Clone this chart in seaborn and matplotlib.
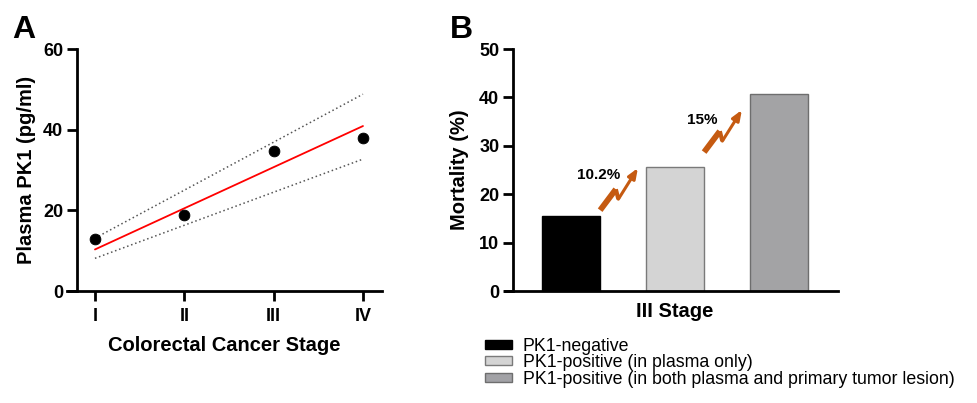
import numpy as np
import pandas as pd
import matplotlib
matplotlib.use("Agg")
import matplotlib.pyplot as plt
from matplotlib.patches import Patch
import seaborn as sns

# ---- panel A: plasma PK1 by stage ----
stage_labels = ["I", "II", "III", "IV"]
stage_pos = [1, 2, 3, 4]
pk1_level = [12.9, 18.8, 34.8, 37.9]
# fitted line and its bounds, read at stage I and IV
fit_stage = [1, 4]
fit_line = [10.3, 40.9]
fit_upper = [13.1, 48.8]
fit_lower = [8.1, 32.7]

# ---- panel B: mortality in stage III ----
group_names = ["PK1-negative",
               "PK1-positive (in plasma only)",
               "PK1-positive (in both plasma and primary tumor lesion)"]
mortality = [15.4, 25.6, 40.6]
stage_b = "III Stage"
step_labels = ["10.2%", "15%"]
arrow_from = [16.7, 28.7]
arrow_to = [25.4, 37.4]
step_label_y = [24.0, 35.3]

bar_colors = ["#000000", "#d4d4d4", "#a2a2a6"]
bar_edges = ["#000000", "#7a7a7a", "#6e6e6e"]
bolt_color = "#c55a11"

sns.set_style("ticks")
plt.rcParams["font.family"] = ["Liberation Sans", "DejaVu Sans"]
plt.rcParams.update({"text.color": "black", "axes.labelcolor": "black",
                     "xtick.color": "black", "ytick.color": "black",
                     "axes.edgecolor": "black"})

W, H = 977, 403
fig = plt.figure(figsize=(W / 100, H / 100), dpi=100)

def px_axes(left, right, top, bottom):
    return fig.add_axes([left / W, 1 - bottom / H, (right - left) / W, (bottom - top) / H])

axA = px_axes(67, 382, 49, 291)
axB = px_axes(505, 838, 49, 291)

# ================== A ==================
dfA = pd.DataFrame({"stage": stage_pos, "pk1": pk1_level})
fit_df = pd.DataFrame({"stage": fit_stage, "fit": fit_line, "upper": fit_upper, "lower": fit_lower})

dots = (0, (1, 1.8))
sns.lineplot(data=fit_df, x="stage", y="upper", color="#555555", linestyle=dots, lw=1.1, ax=axA)
sns.lineplot(data=fit_df, x="stage", y="lower", color="#555555", linestyle=dots, lw=1.1, ax=axA)
sns.lineplot(data=fit_df, x="stage", y="fit", color="red", lw=1.3, ax=axA)
sns.scatterplot(data=dfA, x="stage", y="pk1", color="black", s=60, edgecolor="black", zorder=5, ax=axA)

axA.set_xlim(0.687, 4.213)
axA.set_ylim(0, 60)
axA.set_xticks(stage_pos)
axA.set_xticklabels(stage_labels)
axA.set_yticks([0, 20, 40, 60])
axA.spines["left"].set_position(("data", 0.798))
axA.set_xlabel("Colorectal Cancer Stage", fontsize=14.5, fontweight="bold", labelpad=8)
axA.set_ylabel("Plasma PK1 (pg/ml)", fontsize=14.5, fontweight="bold", labelpad=5)

# ================== B ==================
dfB = pd.DataFrame({"stage": [stage_b] * 3, "group": group_names, "mortality": mortality})
sns.barplot(data=dfB, x="stage", y="mortality", hue="group", hue_order=group_names,
            palette=bar_colors, width=0.8, gap=0.44, errorbar=None, legend=False,
            linewidth=1, ax=axB)
bars = [p for p in axB.patches]
for p, ec in zip(bars, bar_edges):
    p.set_edgecolor(ec)

axB.set_xlim(-0.436, 0.418)
axB.set_ylim(0, 50)
axB.set_yticks([0, 10, 20, 30, 40, 50])
axB.spines["left"].set_position(("data", -0.415))
axB.set_xlabel("")
axB.set_ylabel("Mortality (%)", fontsize=14.5, fontweight="bold", labelpad=7)

def bolt(ax, x0, y0, x1, y1):
    # lightning-style arrow: thick first stroke, a zig, then a thin stroke with a head
    tr = ax.transData
    s = np.array(tr.transform((x0, y0)))
    e = np.array(tr.transform((x1, y1)))
    v = e - s
    L = np.hypot(*v)
    u = v / L
    n = np.array([u[1], -u[0]])
    a = s + 0.46 * L * u - 0.04 * L * n
    b = s + 0.36 * L * u + 0.11 * L * n
    pts = tr.inverted().transform(np.array([s, a, b]))
    ax.plot(pts[:2, 0], pts[:2, 1], color=bolt_color, lw=4.2, solid_capstyle="butt")
    ax.plot(pts[1:, 0], pts[1:, 1], color=bolt_color, lw=3.0, solid_capstyle="butt")
    ax.annotate("", xy=(x1, y1), xytext=tuple(pts[2]),
                arrowprops=dict(arrowstyle="-|>,head_length=0.6,head_width=0.24",
                                color=bolt_color, lw=2.2, shrinkA=0, shrinkB=0))

for i in range(2):
    left_bar, right_bar = bars[i], bars[i + 1]
    x_start = left_bar.get_x() + left_bar.get_width()
    end_disp = axB.transData.transform((right_bar.get_x(), 0))[0] - 8
    x_end = axB.transData.inverted().transform((end_disp, 0))[0]
    bolt(axB, x_start, arrow_from[i], x_end, arrow_to[i])
    axB.text(x_start - 0.005, step_label_y[i], step_labels[i], ha="center", va="center",
             fontsize=11, fontweight="bold")

handles = [Patch(facecolor=c, edgecolor=ec, lw=1) for c, ec in zip(bar_colors, bar_edges)]
fig.legend(handles, group_names, loc="upper left", bbox_to_anchor=(485 / W, 1 - 338 / H),
           frameon=False, fontsize=12.8, borderpad=0, borderaxespad=0,
           handlelength=1.5, handleheight=0.4, handletextpad=0.62, labelspacing=-0.04)

# common axis styling
for ax in (axA, axB):
    sns.despine(ax=ax)
    ax.spines["left"].set_linewidth(2)
    ax.spines["bottom"].set_linewidth(2)
    ax.tick_params(axis="both", width=2, length=7, labelsize=13, color="black")
    ax.tick_params(axis="y", pad=3)
    plt.setp(ax.get_xticklabels(), fontweight="bold")
    plt.setp(ax.get_yticklabels(), fontweight="bold")
axA.tick_params(axis="x", pad=5)
axB.tick_params(axis="x", length=0, pad=8, labelsize=14.5)

fig.text(12 / W, 1 - 38 / H, "A", fontsize=23, fontweight="bold", va="baseline")
fig.text(450 / W, 1 - 38 / H, "B", fontsize=23, fontweight="bold", va="baseline")

fig.savefig("out.png", dpi=100)
